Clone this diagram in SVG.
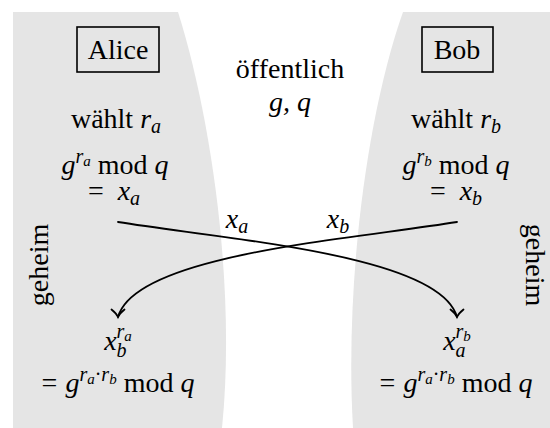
<svg xmlns="http://www.w3.org/2000/svg" width="550" height="428" viewBox="0 0 550 428">
<rect width="550" height="428" fill="#fff"/>
<g id="zone-alice"><path fill="#e5e5e5" d="M13,12 L178,12 C212,120 236,290 222,428 L13,428 Z"/></g>
<g id="zone-bob"><path fill="#e5e5e5" d="M403,12 L550,12 L550,428 L353,428 C345,290 365,120 403,12 Z"/></g>

<g id="alice">
<rect x="77" y="27" width="82" height="45" fill="none" stroke="#000" stroke-width="1.6"/>
<text font-family="Liberation Serif" font-size="28" text-anchor="middle" x="118" y="59">Alice</text>
</g>
<g id="bob">
<rect x="422" y="27" width="71" height="45" fill="none" stroke="#000" stroke-width="1.6"/>
<text font-family="Liberation Serif" font-size="28" text-anchor="middle" x="457" y="59">Bob</text>
</g>

<g id="public">
<text font-family="Liberation Serif" font-size="28" text-anchor="middle" x="290" y="78">&#246;ffentlich</text>
<text font-family="Liberation Serif" font-size="28" text-anchor="middle" font-style="italic" x="290" y="111">g, q</text>
</g>

<g id="alice-steps">
<text font-family="Liberation Serif" font-size="28" text-anchor="middle" x="116" y="128">w&#228;hlt <tspan font-style="italic">r</tspan><tspan font-style="italic" font-size="20" dy="5">a</tspan></text>
<text font-family="Liberation Serif" font-size="28" text-anchor="middle" x="115" y="174"><tspan font-style="italic">g</tspan><tspan font-style="italic" font-size="20" dy="-11">r</tspan><tspan font-style="italic" font-size="15" dy="3">a</tspan><tspan dy="8" dx="7">mod </tspan><tspan font-style="italic">q</tspan></text>
<text font-family="Liberation Serif" font-size="28" text-anchor="middle" x="114" y="200">=<tspan font-style="italic" dx="14">x</tspan><tspan font-style="italic" font-size="20" dy="5">a</tspan></text>
</g>
<g id="bob-steps">
<text font-family="Liberation Serif" font-size="28" text-anchor="middle" x="456" y="128">w&#228;hlt <tspan font-style="italic">r</tspan><tspan font-style="italic" font-size="20" dy="5">b</tspan></text>
<text font-family="Liberation Serif" font-size="28" text-anchor="middle" x="456" y="174"><tspan font-style="italic">g</tspan><tspan font-style="italic" font-size="20" dy="-11">r</tspan><tspan font-style="italic" font-size="15" dy="3">b</tspan><tspan dy="8" dx="7">mod </tspan><tspan font-style="italic">q</tspan></text>
<text font-family="Liberation Serif" font-size="28" text-anchor="middle" x="456" y="200">=<tspan font-style="italic" dx="14">x</tspan><tspan font-style="italic" font-size="20" dy="5">b</tspan></text>
</g>

<g id="secret-labels">
<text font-family="Liberation Serif" font-size="28" text-anchor="middle" transform="translate(48,265) rotate(-90)">geheim</text>
<text font-family="Liberation Serif" font-size="28" text-anchor="middle" transform="translate(526,265) rotate(90)">geheim</text>
</g>

<g id="alice-result">
<text font-family="Liberation Serif" font-size="28" text-anchor="middle" x="118" y="350"><tspan font-style="italic">x</tspan><tspan font-style="italic" font-size="20" dy="7">b</tspan><tspan font-style="italic" font-size="20" dx="-10" dy="-19">r</tspan><tspan font-style="italic" font-size="15" dy="3">a</tspan></text>
<text font-family="Liberation Serif" font-size="28" text-anchor="middle" x="118" y="392">=<tspan font-style="italic" dx="8">g</tspan><tspan font-style="italic" font-size="20" dy="-11">r</tspan><tspan font-style="italic" font-size="15" dy="3">a</tspan><tspan font-size="20" dy="-3">&#183;</tspan><tspan font-style="italic" font-size="20">r</tspan><tspan font-style="italic" font-size="15" dy="3">b</tspan><tspan dy="8" dx="7">mod </tspan><tspan font-style="italic">q</tspan></text>
</g>
<g id="bob-result">
<text font-family="Liberation Serif" font-size="28" text-anchor="middle" x="457" y="350"><tspan font-style="italic">x</tspan><tspan font-style="italic" font-size="20" dy="7">a</tspan><tspan font-style="italic" font-size="20" dx="-10" dy="-19">r</tspan><tspan font-style="italic" font-size="15" dy="3">b</tspan></text>
<text font-family="Liberation Serif" font-size="28" text-anchor="middle" x="456" y="392">=<tspan font-style="italic" dx="8">g</tspan><tspan font-style="italic" font-size="20" dy="-11">r</tspan><tspan font-style="italic" font-size="15" dy="3">a</tspan><tspan font-size="20" dy="-3">&#183;</tspan><tspan font-style="italic" font-size="20">r</tspan><tspan font-style="italic" font-size="15" dy="3">b</tspan><tspan dy="8" dx="7">mod </tspan><tspan font-style="italic">q</tspan></text>
</g>

<g id="connectors" fill="none" stroke="#000" stroke-width="1.8" stroke-linecap="round">
<path d="M118,222 C230,240 440,255 457,317"/>
<path d="M450.5,309.5 Q455.5,313.5 457,317 Q458.5,313.5 463.5,309.5"/>
<path d="M457,222 C345,240 135,255 118,317"/>
<path d="M111.5,309.5 Q116.5,313.5 118,317 Q119.5,313.5 124.5,309.5"/>
</g>
<g id="connector-labels">
<text font-family="Liberation Serif" font-size="28" text-anchor="middle" x="237" y="228"><tspan font-style="italic">x</tspan><tspan font-style="italic" font-size="20" dy="5">a</tspan></text>
<text font-family="Liberation Serif" font-size="28" text-anchor="middle" x="338" y="228"><tspan font-style="italic">x</tspan><tspan font-style="italic" font-size="20" dy="5">b</tspan></text>
</g>
</svg>
